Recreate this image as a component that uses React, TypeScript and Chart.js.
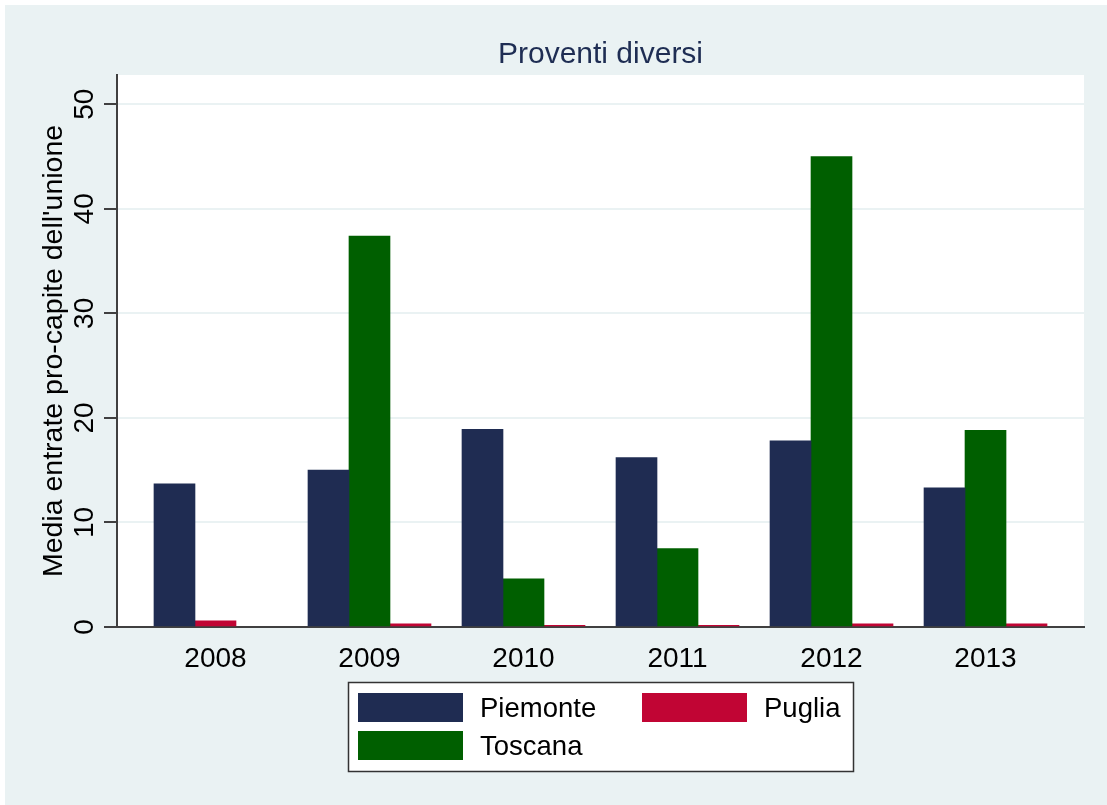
import React, { useEffect, useRef } from 'react';
import { Chart, registerables } from 'chart.js';

Chart.register(...registerables);

// ---- data ----
const years = [2008, 2009, 2010, 2011, 2012, 2013];
const piemonte: (number | null)[] = [13.7, 15.0, 18.9, 16.2, 17.8, 13.3];
const toscana: (number | null)[] = [null, 37.4, 4.6, 7.5, 45.0, 18.8];
const puglia: (number | null)[] = [0.6, 0.3, 0.15, 0.15, 0.3, 0.3];
const yTicks = [0, 10, 20, 30, 40, 50];
const chartTitle = 'Proventi diversi';
const yTitle = "Media entrate pro-capite dell'unione";

// ---- style ----
const NAVY = '#1F2C52';
const GREEN = '#005F00';
const RED = '#C10534';
const BG = '#EAF2F3';
const AXIS = '#404040';
const FONT = '"Liberation Sans", Arial, Helvetica, sans-serif';

// order of bars inside each year (missing values are dropped, the rest shift left)
const series = [
  { name: 'Piemonte', data: piemonte, color: NAVY },
  { name: 'Toscana', data: toscana, color: GREEN },
  { name: 'Puglia', data: puglia, color: RED },
];
// legend order
const legendItems = [
  { name: 'Piemonte', color: NAVY },
  { name: 'Puglia', color: RED },
  { name: 'Toscana', color: GREEN },
];

function buildSlots() {
  return [0, 1, 2].map((slot) => {
    const pts: { x: number; y: number | null }[] = [];
    const cols: string[] = [];
    years.forEach((yr, i) => {
      const present = series.filter((s) => s.data[i] != null);
      const p = present[slot];
      pts.push({ x: yr, y: p ? (p.data[i] as number) : null });
      cols.push(p ? p.color : 'rgba(0,0,0,0)');
    });
    return { pts, cols };
  });
}

const decorPlugin = {
  id: 'decor',
  beforeDraw(chart: any) {
    const { ctx, chartArea: a, width, height } = chart;
    ctx.save();
    ctx.fillStyle = '#FFFFFF';
    ctx.fillRect(0, 0, width, height);
    ctx.fillStyle = BG;
    ctx.fillRect(5, 5, width - 5, height - 5);
    ctx.fillStyle = '#FFFFFF';
    ctx.fillRect(a.left, a.top, a.right - a.left, a.bottom - a.top);
    ctx.restore();
  },
  afterDraw(chart: any) {
    const { ctx, chartArea: a } = chart;
    const xs = chart.scales.x;
    const ys = chart.scales.y;
    ctx.save();
    // title
    ctx.fillStyle = '#1E2D53';
    ctx.font = `30px ${FONT}`;
    ctx.textAlign = 'center';
    ctx.textBaseline = 'alphabetic';
    ctx.fillText(chartTitle, (a.left + a.right) / 2, 63);

    // x labels
    ctx.fillStyle = '#000000';
    ctx.font = `28px ${FONT}`;
    years.forEach((yr) => {
      ctx.fillText(String(yr), xs.getPixelForValue(yr), 667);
    });

    // y labels (rotated)
    yTicks.forEach((v) => {
      const py = ys.getPixelForValue(v);
      ctx.save();
      ctx.translate(93, py);
      ctx.rotate(-Math.PI / 2);
      ctx.textAlign = 'center';
      ctx.textBaseline = 'alphabetic';
      ctx.fillText(String(v), 0, 0);
      ctx.restore();
    });

    // y title
    ctx.save();
    ctx.font = `28.5px ${FONT}`;
    ctx.translate(62, (a.top + a.bottom) / 2);
    ctx.rotate(-Math.PI / 2);
    ctx.textAlign = 'center';
    ctx.textBaseline = 'alphabetic';
    ctx.fillText(yTitle, 0, 0);
    ctx.restore();

    // legend
    const bx = 348, by = 682, bw = 505, bh = 89;
    ctx.fillStyle = '#FFFFFF';
    ctx.fillRect(bx, by, bw, bh);
    ctx.strokeStyle = '#333333';
    ctx.lineWidth = 1.5;
    ctx.strokeRect(bx + 0.5, by + 0.5, bw, bh);
    const pos = [
      { sx: 358, sy: 693, tx: 480, ty: 717 },
      { sx: 642, sy: 693, tx: 764, ty: 717 },
      { sx: 358, sy: 731, tx: 480, ty: 755 },
    ];
    ctx.font = `27.5px ${FONT}`;
    ctx.textAlign = 'left';
    legendItems.forEach((it, i) => {
      const p = pos[i];
      ctx.fillStyle = it.color;
      ctx.fillRect(p.sx, p.sy, 105, 29);
      ctx.fillStyle = '#000000';
      ctx.fillText(it.name, p.tx, p.ty);
    });
    ctx.restore();
  },
};

export default function App() {
  const ref = useRef<HTMLCanvasElement | null>(null);
  useEffect(() => {
    document.body.style.margin = '0';
    const canvas = ref.current;
    if (!canvas) return;
    const slots = buildSlots();
    const chart = new Chart(canvas, {
      type: 'bar',
      data: {
        datasets: slots.map((s, i) => ({
          label: 'slot' + i,
          data: s.pts as any,
          backgroundColor: s.cols,
          borderWidth: 0,
          barThickness: 41,
        })),
      },
      options: {
        responsive: false,
        animation: false,
        devicePixelRatio: 1,
        layout: { padding: { left: 0, top: 75, right: 23, bottom: 0 } },
        plugins: {
          legend: { display: false },
          title: { display: false },
          tooltip: { enabled: false },
        },
        scales: {
          x: {
            type: 'linear',
            offset: false,
            min: 2007.3605,
            max: 2013.6395,
            grid: { display: false, drawTicks: false },
            border: { display: true, color: AXIS, width: 2 },
            ticks: { display: false },
            afterFit: (s: any) => {
              s.height = 178;
            },
          },
          y: {
            min: 0,
            max: 52.8,
            afterBuildTicks: (s: any) => {
              s.ticks = yTicks.map((v) => ({ value: v }));
            },
            grid: {
              color: (c: any) => (c.tick && c.tick.value === 0 ? 'rgba(0,0,0,0)' : BG),
              lineWidth: 2,
              drawTicks: true,
              tickLength: 13,
              tickWidth: 2,
              tickColor: AXIS,
            },
            border: { display: true, color: AXIS, width: 2 },
            ticks: { display: false },
            afterFit: (s: any) => {
              s.width = 117;
            },
          },
        },
      },
      plugins: [decorPlugin],
    });
    return () => chart.destroy();
  }, []);
  return (
    <canvas
      ref={ref}
      width={1107}
      height={805}
      style={{ display: 'block', width: 1107, height: 805 }}
    />
  );
}
